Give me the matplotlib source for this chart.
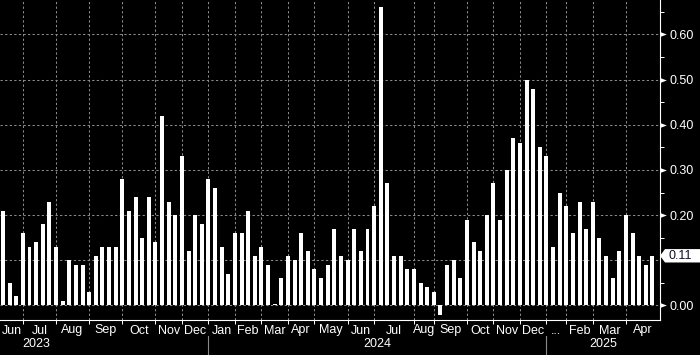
import matplotlib
matplotlib.use("Agg")
import matplotlib.pyplot as plt
from matplotlib.ticker import FixedLocator, MultipleLocator, NullFormatter, FixedFormatter
from matplotlib.transforms import blended_transform_factory, ScaledTranslation, IdentityTransform
from matplotlib.patches import Polygon
from matplotlib.path import Path
import numpy as np

# ---- data (weekly values) ----
values = [0.21, 0.05, 0.02, 0.16, 0.13, 0.14, 0.18, 0.23, 0.13, 0.01,
          0.10, 0.09, 0.09, 0.03, 0.11, 0.13, 0.13, 0.13, 0.28, 0.21,
          0.24, 0.15, 0.24, 0.14, 0.42, 0.23, 0.20, 0.33, 0.12, 0.20,
          0.18, 0.28, 0.26, 0.13, 0.07, 0.16, 0.16, 0.21, 0.11, 0.13,
          0.09, 0.003, 0.06, 0.11, 0.10, 0.16, 0.12, 0.08, 0.06, 0.09,
          0.17, 0.11, 0.10, 0.17, 0.12, 0.17, 0.22, 0.66, 0.27, 0.11,
          0.11, 0.08, 0.08, 0.05, 0.04, 0.03, -0.02, 0.09, 0.10, 0.06,
          0.19, 0.14, 0.12, 0.20, 0.27, 0.19, 0.30, 0.37, 0.36, 0.50,
          0.48, 0.35, 0.33, 0.13, 0.25, 0.22, 0.16, 0.23, 0.17, 0.23,
          0.15, 0.11, 0.06, 0.12, 0.20, 0.16, 0.11, 0.09, 0.11]

# bar index where each new month starts (month boundaries)
month_starts = [3, 8, 13, 18, 23, 27, 31, 35, 39, 43, 47, 52, 56, 62, 65,
                70, 74, 78, 82, 85, 89, 94]
month_labels = ["Jun", "Jul", "Aug", "Sep", "Oct", "Nov", "Dec", "Jan", "Feb",
                "Mar", "Apr", "May", "Jun", "Jul", "Aug", "Sep", "Oct", "Nov",
                "Dec", "...", "Feb", "Mar", "Apr"]
year_labels = ["2023", "2024", "2025"]
year_starts = [31, 82]          # January boundaries
year_label_pos = [4.98]         # 2023 label position (others centred in span)

y_ticks = [0.0, 0.1, 0.2, 0.3, 0.4, 0.5, 0.6]

# ---- figure ----
W, H, DPI = 700, 355, 100
fig = plt.figure(figsize=(W / DPI, H / DPI), dpi=DPI, facecolor="black")
ax = fig.add_axes([0, (H - 319.5) / H, 659.5 / W, 319.5 / H])
ax.set_facecolor("black")

FONT = "Liberation Sans"
FS = 9
x = np.arange(len(values))
ax.bar(x, values, width=0.6, color="white", edgecolor="none", zorder=3)

xmin, xmax = -0.45, 99.06
ax.set_xlim(xmin, xmax)
ax.set_ylim(-0.031, 0.676)

grid_kw = dict(color="#8a8a8a", linewidth=0.75, linestyle=(0, (2.2, 2.2)))
for yv in y_ticks:
    ax.axhline(yv, zorder=1, **grid_kw)
for m in month_starts:
    ax.axvline(m, zorder=1, **grid_kw)

# spines
for s in ["left", "top"]:
    ax.spines[s].set_visible(False)
for s in ["right", "bottom"]:
    ax.spines[s].set_color("white")
    ax.spines[s].set_linewidth(0.8)

# x axis: boundaries as major ticks, labels at midpoints as minor ticks
bounds = [xmin] + month_starts + [xmax]
mids = [(bounds[i] + bounds[i + 1]) / 2 for i in range(len(bounds) - 1)]
ax.xaxis.set_major_locator(FixedLocator(month_starts))
ax.xaxis.set_major_formatter(NullFormatter())
ax.xaxis.set_minor_locator(FixedLocator(mids))
ax.xaxis.set_minor_formatter(FixedFormatter(month_labels))
ax.tick_params(axis="x", which="major", direction="out", length=3.2,
               width=0.7, color="white")
ax.tick_params(axis="x", which="minor", length=0, pad=3.6,
               labelsize=FS, labelcolor="white")
for lbl in ax.get_xticklabels(minor=True):
    lbl.set_fontfamily(FONT)

# y axis on the right
ax.yaxis.tick_right()
last = values[-1]
ax.yaxis.set_major_locator(FixedLocator(y_ticks))
ax.yaxis.set_major_formatter(FixedFormatter(
    ["" if abs(v - 0.1) < 1e-9 else f"{v:.2f}" for v in y_ticks]))
ax.yaxis.set_minor_locator(MultipleLocator(0.05))
ax.tick_params(axis="y", which="major", length=0, pad=7.0,
               labelsize=FS, labelcolor="white")
ax.tick_params(axis="y", which="minor", direction="out", length=3.0,
               width=0.7, color="white")
for lbl in ax.get_yticklabels():
    lbl.set_fontfamily(FONT)

# triangle markers at major y ticks
tri = Path([(-1, -0.75), (-1, 0.75), (1, 0), (-1, -0.75)])
tr = ax.get_yaxis_transform() + ScaledTranslation(3.3 / DPI, 0, fig.dpi_scale_trans)
ax.plot([1] * (len(y_ticks) - 1), [v for v in y_ticks if abs(v - 0.1) > 1e-9],
        linestyle="none", marker=tri, markersize=4.8, color="white",
        markeredgewidth=0, transform=tr, clip_on=False, zorder=5)

# year labels and separators
ytr = blended_transform_factory(ax.transData, fig.transFigure)
year_pos = [year_label_pos[0],
            (year_starts[0] + year_starts[1]) / 2,
            (year_starts[1] + xmax) / 2]
for lab, xp in zip(year_labels, year_pos):
    fig.text(xp, (H - 344) / H, lab, transform=ytr, ha="center", va="center",
             color="white", fontsize=FS, fontfamily=FONT)
for ys in year_starts:
    ax.plot([ys, ys], [(H - 336) / H, (H - 354) / H], transform=ytr,
            color="#8a8a8a", linewidth=0.8, clip_on=False)

# last value tag
yp = ax.transData.transform((0, last))[1]
xr = ax.transAxes.transform((1, 0))[0]
hh = 6.7
poly = Polygon([(xr + 0.5, yp), (xr + 5.5, yp + hh), (W, yp + hh), (W, yp - hh),
                (xr + 5.5, yp - hh)], closed=True, facecolor="white",
               edgecolor="none", transform=IdentityTransform(), zorder=10)
fig.patches.append(poly)
fig.text(xr + 9.0, yp, f"{last:.2f}", transform=IdentityTransform(),
         ha="left", va="center", color="#101028", fontsize=FS,
         fontfamily=FONT, zorder=11)

fig.savefig("out.png", dpi=DPI, facecolor="black")
